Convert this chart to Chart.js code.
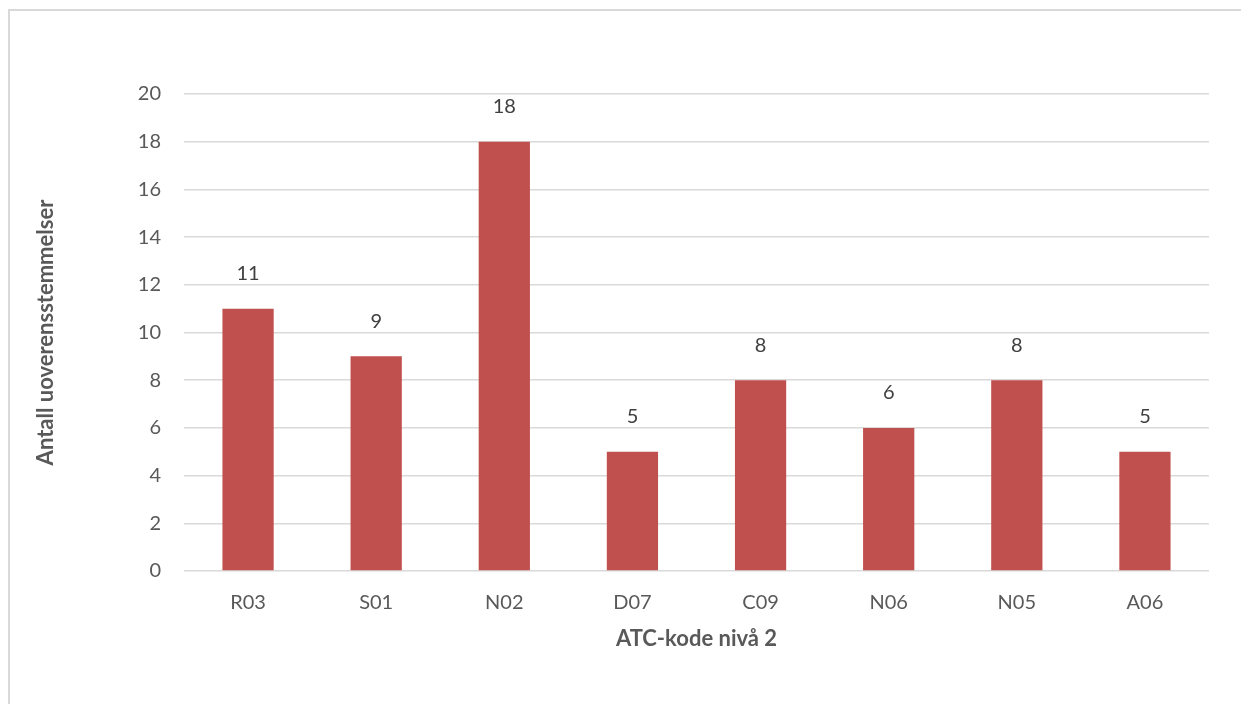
<!DOCTYPE html>
<html>
<head>
<meta charset="utf-8">
<script src="https://cdn.jsdelivr.net/npm/chart.js@4"></script>
<style>
  html, body { margin: 0; padding: 0; background: #fff; overflow: hidden; }
  #frame { position: absolute; left: 8px; top: 9px; width: 1300px; height: 800px;
           border: 2px solid #d9d9d9; box-sizing: border-box; }
  #wrap { position: absolute; left: 0; top: 0; width: 1241px; height: 704px; }
</style>
</head>
<body>
<div id="frame"></div>
<div id="wrap"><canvas id="c"></canvas></div>
<script>
const categories = ['R03', 'S01', 'N02', 'D07', 'C09', 'N06', 'N05', 'A06'];
const counts = [11, 9, 18, 5, 8, 6, 8, 5];
const yTicks = [0, 2, 4, 6, 8, 10, 12, 14, 16, 18, 20];

const FONT = 'Lato, "Open Sans", sans-serif';

// Value labels above each bar
const valueLabels = {
  id: 'valueLabels',
  afterDatasetsDraw(chart) {
    const ctx = chart.ctx;
    const meta = chart.getDatasetMeta(0);
    ctx.save();
    ctx.font = '20px ' + FONT;
    ctx.fillStyle = '#404040';
    ctx.textAlign = 'center';
    ctx.textBaseline = 'middle';
    meta.data.forEach((bar, i) => {
      ctx.fillText(String(counts[i]), bar.x, bar.y - 35);
    });
    ctx.restore();
  }
};

new Chart(document.getElementById('c'), {
  type: 'bar',
  data: {
    labels: categories,
    datasets: [{
      data: counts,
      backgroundColor: '#c0504d',
      borderWidth: 0,
      categoryPercentage: 1,
      barPercentage: 0.4
    }]
  },
  options: {
    responsive: true,
    maintainAspectRatio: false,
    animation: false,
    events: [],
    layout: { padding: { top: 94, right: 32, bottom: 43, left: 0 } },
    plugins: { legend: { display: false }, tooltip: { enabled: false } },
    scales: {
      x: {
        grid: { display: false, drawTicks: false },
        border: { display: false },
        ticks: { color: '#595959', font: { family: FONT, size: 20 }, padding: 20 },
        title: { display: true, text: 'ATC-kode nivå 2', color: '#595959',
                 font: { family: FONT, size: 22, weight: 'bold' }, padding: 9 },
        afterFit(scale) { scale.height = 90; }
      },
      y: {
        min: 0, max: 20,
        afterBuildTicks(scale) { scale.ticks = yTicks.map(v => ({ value: v })); },
        grid: { color: '#d9d9d9', lineWidth: 1.5, drawTicks: false },
        border: { display: false },
        ticks: { color: '#595959', font: { family: FONT, size: 20 }, padding: 23 },
        title: { display: true, text: 'Antall uoverensstemmelser', color: '#595959',
                 font: { family: FONT, size: 22, weight: 'bold' }, padding: { top: 33, bottom: 0 } },
        afterFit(scale) { scale.width = 184; }
      }
    }
  },
  plugins: [valueLabels]
});
</script>
</body>
</html>
